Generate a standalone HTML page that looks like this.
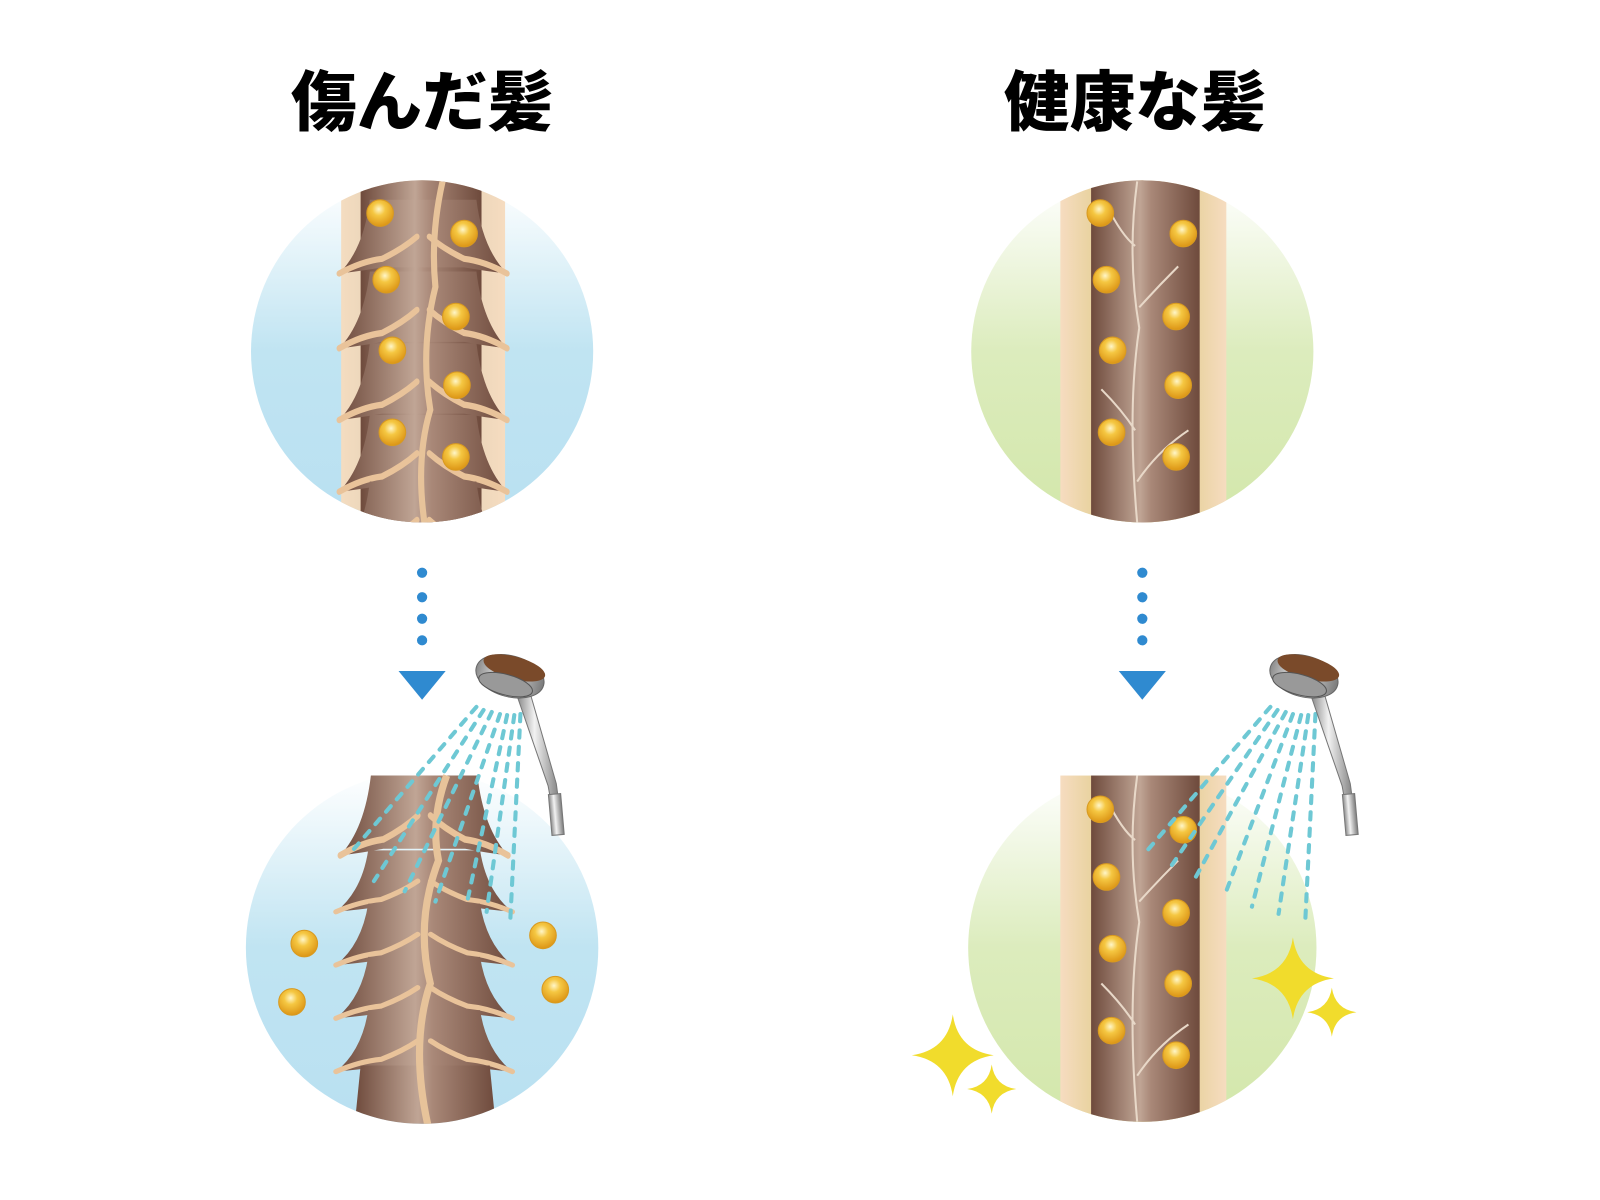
<!DOCTYPE html>
<html><head><meta charset="utf-8"><style>
html,body{margin:0;padding:0;background:#fff}
svg{display:block}
text{font-family:"Noto Sans CJK JP","Liberation Sans",sans-serif;font-weight:900}
</style></head><body>
<svg width="1600" height="1200" viewBox="0 0 1600 1200">
<defs>
<linearGradient id="blue" x1="0" y1="0" x2="0" y2="1"><stop offset="0" stop-color="#fff"/><stop offset="0.5" stop-color="#c0e4f2"/><stop offset="1" stop-color="#b9e0f1"/></linearGradient>
<linearGradient id="green" x1="0" y1="0" x2="0" y2="1"><stop offset="0" stop-color="#fff"/><stop offset="0.5" stop-color="#dcecbd"/><stop offset="1" stop-color="#d3e7ab"/></linearGradient>
<linearGradient id="brown" x1="0" y1="0" x2="1" y2="0"><stop offset="0" stop-color="#6e4a3c"/><stop offset="0.45" stop-color="#c0a595"/><stop offset="0.55" stop-color="#a98878"/><stop offset="1" stop-color="#6e4a3c"/></linearGradient>
<linearGradient id="band" x1="0" y1="0" x2="1" y2="0"><stop offset="0" stop-color="#f6dcc0"/><stop offset="0.2" stop-color="#e8d29e"/><stop offset="0.8" stop-color="#e8d29e"/><stop offset="1" stop-color="#f6dcc0"/></linearGradient>
<linearGradient id="dband" x1="0" y1="0" x2="1" y2="0"><stop offset="0" stop-color="#f4dcc0"/><stop offset="0.5" stop-color="#d8cbb0"/><stop offset="1" stop-color="#f6dcc0"/></linearGradient>
<radialGradient id="bead" cx="0.45" cy="0.35" r="0.7"><stop offset="0" stop-color="#fff6c8"/><stop offset="0.35" stop-color="#f5c742"/><stop offset="1" stop-color="#d98f10"/></radialGradient>
<linearGradient id="metal" x1="0" y1="0" x2="1" y2="0"><stop offset="0" stop-color="#8a8a8a"/><stop offset="0.4" stop-color="#f2f2f2"/><stop offset="1" stop-color="#7a7a7a"/></linearGradient>
<clipPath id="c1"><circle cx="412" cy="343" r="167"/></clipPath>
<clipPath id="c2"><circle cx="1115" cy="343" r="167"/></clipPath>
<clipPath id="c4"><path d="M0 757 H1600 V925 H0Z"/><circle cx="1115" cy="925" r="170"/></clipPath>
<clipPath id="c3"><path d="M0 700 H1600 V925 H0Z"/><circle cx="412" cy="925" r="172"/></clipPath>
<symbol id="seg" overflow="visible">
<path d="M-52 0 L52 0 Q58 40 82 60 Q60 58 40 55 L-40 55 Q-60 58 -82 60 Q-58 40 -52 0Z" fill="url(#brown)"/>
<path d="M-82 60 Q-60 50 -40 48 Q-20 40 -6 30 M82 60 Q60 50 40 48 Q20 40 6 30" fill="none" stroke="#e9c39a" stroke-width="5" stroke-linecap="round"/>
</symbol>
<g id="bd"><circle r="13" fill="url(#bead)" stroke="#d89a20" stroke-width="1"/></g>
<symbol id="spark" overflow="visible"><path d="M0 -40 Q5 -5 40 0 Q5 5 0 40 Q-5 5 -40 0 Q-5 -5 0 -40Z" fill="#f1dc2c"/></symbol>
<g id="shower">
<path d="M52 30 L78 120 L82 150 L75 150 L70 122 L40 35Z" fill="url(#metal)" stroke="#777" stroke-width="1"/>
<rect x="72" y="130" width="12" height="40" fill="url(#metal)" stroke="#777" transform="rotate(-5 78 150)"/>
<g transform="rotate(15 32 18)">
<ellipse cx="32" cy="15" rx="34" ry="20" fill="url(#metal)" stroke="#666"/>
<ellipse cx="34" cy="6" rx="31" ry="11" fill="#7a4a2a"/>
<ellipse cx="30" cy="24" rx="27" ry="10" fill="#999" stroke="#555"/>
</g>
</g>
</defs>
<g transform="scale(1.0245)">
<text x="412" y="122" font-size="64" text-anchor="middle">傷んだ髪</text>
<text x="1108" y="122" font-size="64" text-anchor="middle">健康な髪</text>

<circle cx="412" cy="343" r="167" fill="url(#blue)"/>
<g clip-path="url(#c1)">
<rect x="333" y="170" width="160" height="345" fill="url(#dband)"/>
<rect x="352" y="170" width="118" height="345" fill="url(#brown)"/>
<use href="#seg" transform="translate(413,195) scale(1,1.2)"/>
<use href="#seg" transform="translate(413,265) scale(1,1.25)"/>
<use href="#seg" transform="translate(413,335) scale(1,1.25)"/>
<use href="#seg" transform="translate(413,405) scale(1,1.25)"/>
<use href="#seg" transform="translate(413,470) scale(1,1.25)"/>
<path d="M432 177 Q420 230 425 280 Q410 340 420 400 Q405 450 415 515" fill="none" stroke="#e7c39a" stroke-width="6"/>
</g>
<use href="#bd" x="371" y="208"/><use href="#bd" x="453" y="228"/><use href="#bd" x="377" y="273"/><use href="#bd" x="445" y="309"/><use href="#bd" x="383" y="342"/><use href="#bd" x="446" y="376"/><use href="#bd" x="383" y="422"/><use href="#bd" x="445" y="446"/>

<circle cx="1115" cy="343" r="167" fill="url(#green)"/>
<g clip-path="url(#c2)">
<rect x="1035" y="170" width="162" height="345" fill="url(#band)"/>
<rect x="1065" y="170" width="106" height="345" fill="url(#brown)"/>
<path d="M1110 177 Q1100 250 1112 320 Q1100 400 1110 510 M1080 200 Q1095 230 1108 240 M1150 260 Q1130 280 1112 300 M1075 380 Q1095 400 1108 420 M1160 420 Q1130 440 1110 470" fill="none" stroke="#e8d8c8" stroke-width="2"/>
</g>
<use href="#bd" x="1074" y="208"/><use href="#bd" x="1155" y="228"/><use href="#bd" x="1080" y="273"/><use href="#bd" x="1148" y="309"/><use href="#bd" x="1086" y="342"/><use href="#bd" x="1150" y="376"/><use href="#bd" x="1085" y="422"/><use href="#bd" x="1148" y="446"/>

<g fill="#2f8ad0">
<circle cx="412" cy="559" r="5"/><circle cx="412" cy="583" r="5"/><circle cx="412" cy="604" r="5"/><circle cx="412" cy="625" r="5"/>
<path d="M389 655 H435 L412 683Z"/>
<circle cx="1115" cy="559" r="5"/><circle cx="1115" cy="583" r="5"/><circle cx="1115" cy="604" r="5"/><circle cx="1115" cy="625" r="5"/>
<path d="M1092 655 H1138 L1115 683Z"/>
</g>

<circle cx="412" cy="925" r="172" fill="url(#blue)"/>
<g clip-path="url(#c3)">
<use href="#seg" transform="translate(414,757) scale(1,1.3)"/>
<use href="#seg" transform="translate(414,830) scale(1.05,1)"/>
<use href="#seg" transform="translate(414,882) scale(1.05,1)"/>
<use href="#seg" transform="translate(414,934) scale(1.05,1)"/>
<use href="#seg" transform="translate(414,986) scale(1.05,1)"/>
<path d="M352 1040 L478 1040 L484 1100 L346 1100Z" fill="url(#brown)"/>
<path d="M436 757 Q420 800 428 840 Q405 900 420 960 Q400 1020 418 1100" fill="none" stroke="#e7c39a" stroke-width="7"/>
</g>
<use href="#bd" x="297" y="921"/><use href="#bd" x="285" y="978"/><use href="#bd" x="530" y="913"/><use href="#bd" x="542" y="966"/>

<circle cx="1115" cy="925" r="170" fill="url(#green)"/>
<g clip-path="url(#c4)">
<rect x="1035" y="757" width="162" height="345" fill="url(#band)"/>
<rect x="1065" y="757" width="106" height="345" fill="url(#brown)"/>
<path d="M1110 757 Q1100 830 1112 900 Q1100 980 1110 1095 M1080 780 Q1095 810 1108 820 M1150 840 Q1130 860 1112 880 M1075 960 Q1095 980 1108 1000 M1160 1000 Q1130 1020 1110 1050" fill="none" stroke="#e8d8c8" stroke-width="2"/>
</g>
<use href="#bd" x="1074" y="790"/><use href="#bd" x="1155" y="810"/><use href="#bd" x="1080" y="856"/><use href="#bd" x="1148" y="891"/><use href="#bd" x="1086" y="926"/><use href="#bd" x="1150" y="960"/><use href="#bd" x="1085" y="1006"/><use href="#bd" x="1148" y="1030"/>

<g stroke="#6ec8d4" stroke-width="4" stroke-dasharray="7 9" stroke-linecap="round" fill="none">
<path d="M465 690 L340 835"/><path d="M472 693 L365 860"/><path d="M480 695 L395 870"/><path d="M488 697 L425 880"/><path d="M495 698 L455 885"/><path d="M502 698 L475 890"/><path d="M508 697 L498 900"/>
<path d="M1240 690 L1120 830"/><path d="M1247 693 L1140 850"/><path d="M1255 695 L1165 860"/><path d="M1262 697 L1195 875"/><path d="M1270 698 L1222 885"/><path d="M1277 698 L1248 892"/><path d="M1284 697 L1274 900"/>
</g>
<use href="#shower" x="465" y="645"/>
<use href="#shower" x="1240" y="645"/>

<use href="#spark" x="930" y="1030"/><use href="#spark" transform="translate(968,1063) scale(0.6)"/>
<use href="#spark" x="1262" y="955"/><use href="#spark" transform="translate(1300,988) scale(0.6)"/>
</g>
</svg>
</body></html>
